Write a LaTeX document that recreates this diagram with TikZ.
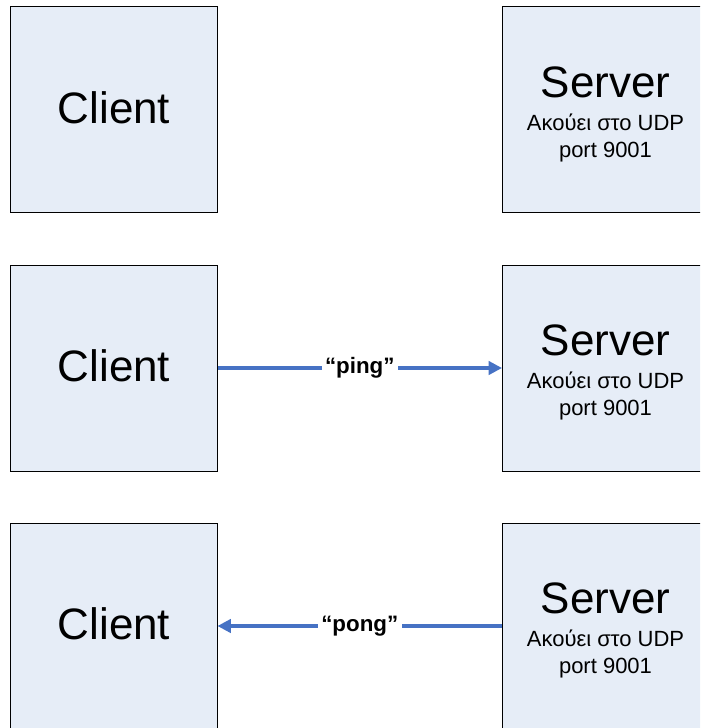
\documentclass[tikz,border=0pt]{standalone}
\usepackage{fontspec}
\setmainfont{Liberation Sans}
\usetikzlibrary{arrows.meta,calc}
\definecolor{boxfill}{RGB}{230,237,247}
\definecolor{arrowblue}{RGB}{70,114,196}
\begin{document}
\begin{tikzpicture}[x=0.75pt,y=-0.75pt,
  box/.style={draw=black, line width=0.75pt, fill=boxfill, minimum width=155.25pt, minimum height=154.5pt, inner sep=0pt, outer sep=0pt},
  sbox/.style={box, minimum width=172.5pt},
  bigtxt/.style={anchor=base, font=\fontsize{33}{39}\selectfont, inner sep=0pt},
  smalltxt/.style={anchor=base, font=\fontsize{16.5}{20}\selectfont, inner sep=0pt},
  arr/.style={draw=arrowblue, line width=2.4pt, -{Triangle[length=10pt,width=10pt]}},
  lbl/.style={fill=white, font=\bfseries\fontsize{16.75}{20}\selectfont, inner xsep=2.6pt, inner ysep=1pt, text=black}]
\useasboundingbox (0,0) rectangle (700,728);
\clip (0,0) rectangle (700,728);
% boxes
\node[box] (c1) at (114,109.5) {};
\node[box] (c2) at (114,368) {};
\node[box] (c3) at (114,626) {};
\node[sbox] (s1) at (617,109.5) {};
\node[sbox] (s2) at (617,368) {};
\node[sbox] (s3) at (617,626) {};
% texts
\foreach \r in {1,2,3}{
  \node[bigtxt] (ct\r) at ($(c\r.center)+(0,13.5)$) {Client};
  \node[bigtxt] (st\r) at ($(s\r.center)+(-11.5,-12.5)$) {Server};
  \node[smalltxt] (sa\r) at ($(s\r.center)+(-11.5,20.5)$) {Ακούει στο UDP};
  \node[smalltxt] (sb\r) at ($(s\r.center)+(-11.5,47.5)$) {port 9001};
}
% arrows
\draw[arr] (c2.east) -- node[lbl] (ping) {“ping”} (s2.west);
\draw[arr] (s3.west) -- node[lbl] (pong) {“pong”} (c3.east);
\end{tikzpicture}
\end{document}
